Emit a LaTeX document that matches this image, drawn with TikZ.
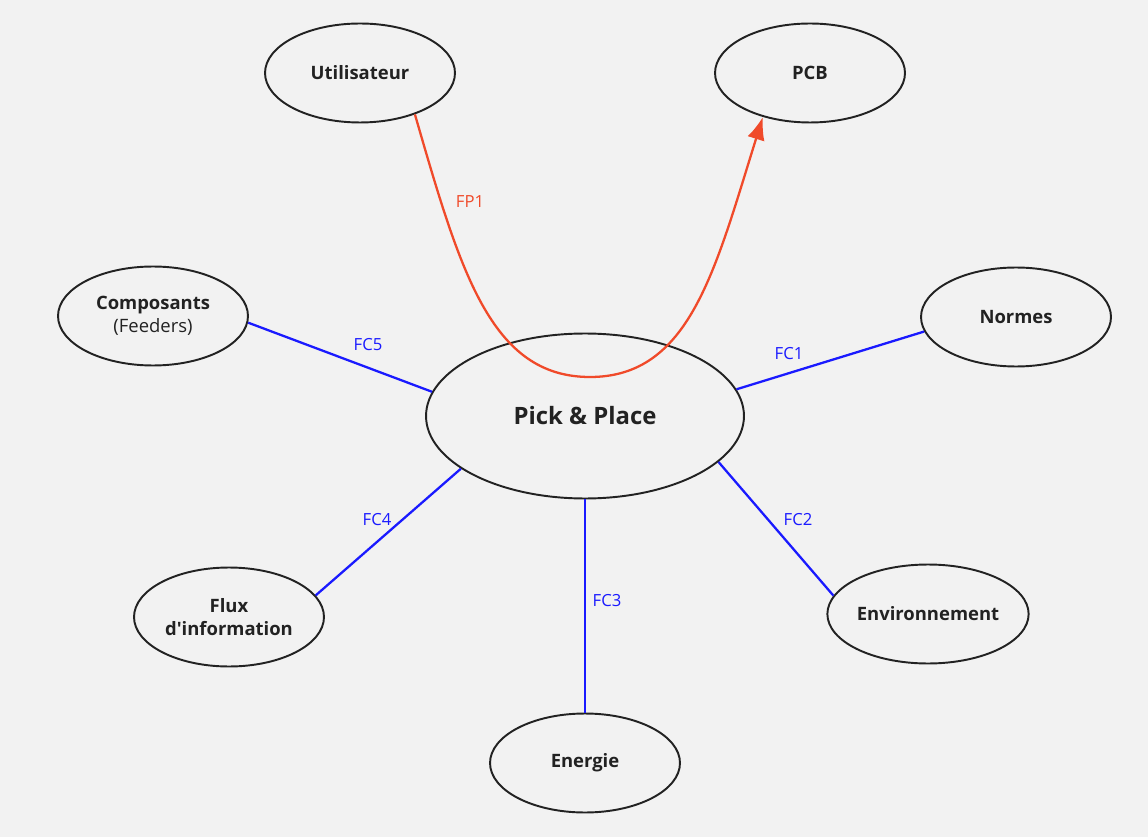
\documentclass[tikz,border=0pt]{standalone}
\usepackage{fontspec}
\setmainfont{Open Sans}
\usepackage{tikz}
\usetikzlibrary{arrows.meta,shapes.geometric}
\definecolor{bg}{HTML}{F2F2F2}
\definecolor{ink}{HTML}{222222}
\definecolor{fcblue}{HTML}{1A1AFF}
\definecolor{fpred}{HTML}{F04A2A}
\tikzset{
  actor/.style={ellipse,draw=ink,line width=1.1pt,fill=bg,text=ink,
    minimum width=3.8cm,minimum height=1.98cm,inner sep=0pt,align=center,
    font=\fontsize{10.5}{13}\selectfont\bfseries},
  fc/.style={fcblue,line width=1.3pt},
  fclabel/.style={text=fcblue,font=\fontsize{9.5}{11}\selectfont}
}

\begin{document}
\begin{tikzpicture}[x=0.02cm,y=-0.02cm]
                %background and page size
                \fill[bg] (0,0) rectangle (1148,837);
                \useasboundingbox (0,0) rectangle (1148,837);

                %define nodes first
                \node (PP) at (585,416) [actor,minimum width=6.36cm,minimum height=3.3cm,font=\fontsize{13.6}{16}\selectfont\bfseries]{Pick \& Place};
                \node (U) at (360,73) [actor]{Utilisateur};
                \node (PCB) at (810,73) [actor]{PCB};
                \node (C) at (153,316) [actor]{Composants\\{\mdseries (Feeders)}};
                \node (N) at (1016,317) [actor]{Normes};
                \node (F) at (229,617) [actor]{Flux\\d\textquotesingle information};
                \node (Env) at (928,614) [actor,minimum width=4cm]{Environnement};
                \node (E) at (585,763) [actor]{Energie};

                %constraint functions
                \draw[fc] (PP.10.8) -- (N.-171);
                \draw[fc] (PP.-19) -- (Env.169);
                \draw[fc] (PP.south) -- (E.north);
                \draw[fc] (PP.-157) -- (F.14);
                \draw[fc] (PP.171) -- (C.-4);

                %labels of the constraint functions
                \node[fclabel] at (789,354) {FC1};
                \node[fclabel] at (798,520) {FC2};
                \node[fclabel] at (607,601) {FC3};
                \node[fclabel] at (377,520) {FC4};
                \node[fclabel] at (368,345) {FC5};

                %main function, from user to board
                \draw[fpred,line width=1.3pt,-{Latex[length=13pt,width=10pt]}] (U.-37) .. controls (460,270) and (490,377) .. (590,377) .. controls (690,377) and (715,270) .. (PCB.-137);
                \node[text=fpred,font=\fontsize{9.5}{11}\selectfont] at (470,202) {FP1};
            \end{tikzpicture}
\end{document}
